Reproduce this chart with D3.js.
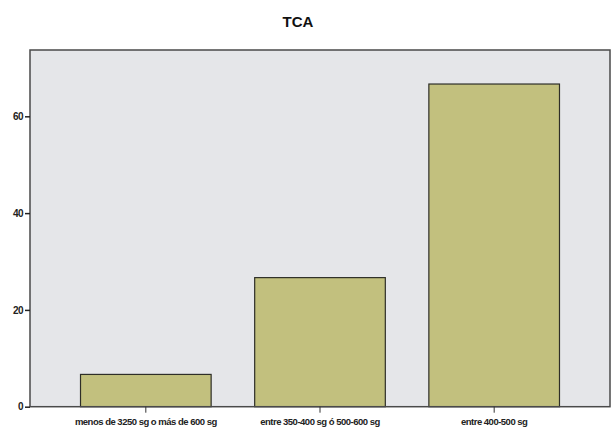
<!DOCTYPE html>
<html>
<head>
<meta charset="utf-8">
<script src="https://cdn.jsdelivr.net/npm/d3@7"></script>
<style>
  body { margin: 0; background: #fff; }
  text { font-family: "Liberation Sans", Arial, sans-serif; }
</style>
</head>
<body>
<div id="chart"></div>
<script>
// Chart data
const categories = ["menos de 3250 sg o más de 600 sg", "entre 350-400 sg ó 500-600 sg", "entre 400-500 sg"];
const values = [6.67, 26.67, 66.67];
const yTicks = [0, 20, 40, 60];
const title = "TCA";

const width = 613;
const height = 432;
const margin = { top: 50, right: 3, bottom: 25.3, left: 30 };

const svg = d3.select("#chart")
  .append("svg")
  .attr("width", width)
  .attr("height", height);

const x = d3.scaleBand()
  .domain(categories)
  .range([margin.left, width - margin.right])
  .paddingInner(0.25)
  .paddingOuter(0.29);

const y = d3.scaleLinear()
  .domain([0, 73.7])
  .range([height - margin.bottom, margin.top]);

// plot background
svg.append("rect")
  .attr("x", margin.left)
  .attr("y", margin.top)
  .attr("width", width - margin.left - margin.right)
  .attr("height", height - margin.top - margin.bottom)
  .attr("fill", "#e5e6e9");

// bars
svg.append("g")
  .selectAll("rect")
  .data(values)
  .join("rect")
  .attr("x", (d, i) => x(categories[i]))
  .attr("y", d => y(d))
  .attr("width", x.bandwidth())
  .attr("height", d => y(0) - y(d))
  .attr("fill", "#c2c07e")
  .attr("stroke", "#2e2e28")
  .attr("stroke-width", 1.2);

// frame
svg.append("rect")
  .attr("x", margin.left)
  .attr("y", margin.top)
  .attr("width", width - margin.left - margin.right)
  .attr("height", height - margin.top - margin.bottom)
  .attr("fill", "none")
  .attr("stroke", "#4a4a4a")
  .attr("stroke-width", 1.5);

// y axis
const yAxis = svg.append("g")
  .attr("transform", `translate(${margin.left},0)`)
  .call(d3.axisLeft(y).tickValues(yTicks).tickSize(5).tickPadding(2).tickFormat(d3.format("d")));
yAxis.select(".domain").remove();
yAxis.selectAll(".tick line").attr("stroke", "#222").attr("stroke-width", 1.5);
yAxis.selectAll(".tick text")
  .attr("fill", "#222")
  .style("font-size", "10px")
  .style("font-weight", "bold")
  .style("letter-spacing", "-0.6px");

// x axis
const xAxis = svg.append("g")
  .attr("transform", `translate(0,${height - margin.bottom})`)
  .call(d3.axisBottom(x).tickSize(6).tickPadding(6));
xAxis.select(".domain").remove();
xAxis.selectAll(".tick line").attr("stroke", "#333").attr("stroke-width", 1);
xAxis.selectAll(".tick text")
  .attr("fill", "#222")
  .style("font-size", "9.5px")
  .style("font-weight", "bold")
  .style("letter-spacing", "-0.5px");

// title
svg.append("text")
  .attr("x", 298)
  .attr("y", 27)
  .attr("text-anchor", "middle")
  .style("font-size", "15px")
  .style("font-weight", "bold")
  .attr("fill", "#111")
  .text(title);
</script>
</body>
</html>
